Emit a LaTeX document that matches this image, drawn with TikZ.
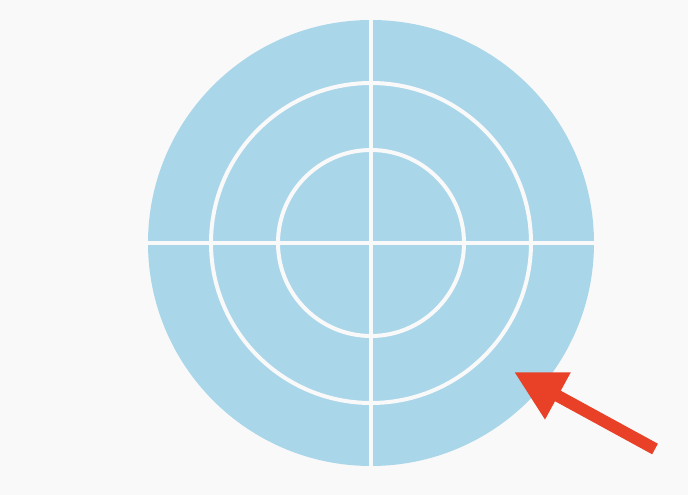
\documentclass[tikz,border=0pt]{standalone}
\usetikzlibrary{arrows.meta}
\definecolor{bg}{HTML}{F9F9F9}
\definecolor{target}{HTML}{AAD6EA}
\definecolor{arrowred}{HTML}{E84127}
\begin{document}
\begin{tikzpicture}[x=1pt,y=1pt,
  ringline/.style={draw=bg,line width=4pt}]
\fill[bg] (0,0) rectangle (688,495);
\useasboundingbox (0,0) rectangle (688,495);
\coordinate (c) at (371,252);
\fill[target] (c) circle[radius=223];
\draw[ringline] (c) circle[radius=160];
\draw[ringline] (c) circle[radius=93];
\draw[ringline] ([yshift=225]c) -- ([yshift=-225]c);
\draw[ringline] ([xshift=-225]c) -- ([xshift=225]c);
\coordinate (tail) at (655,46);
\coordinate (tip) at (514,123);
\draw[arrowred,line width=12pt,-{Triangle[length=50pt,width=50pt]}] (tail) -- (tip);
\end{tikzpicture}
\end{document}
